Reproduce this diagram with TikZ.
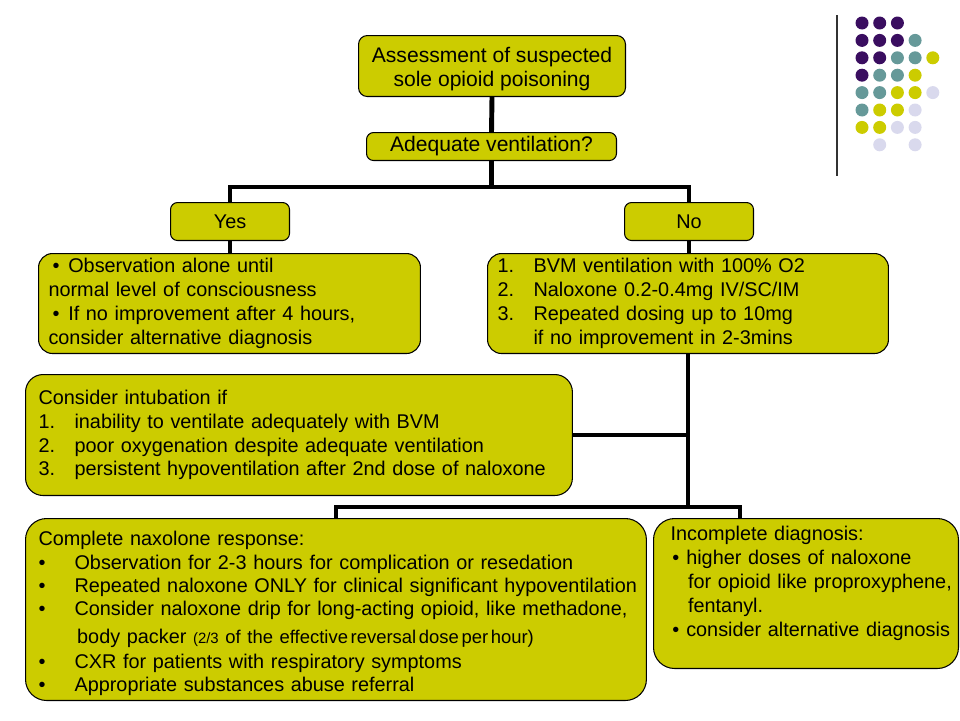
\documentclass[tikz,border=0pt]{standalone}
\usepackage{fontspec}
\setmainfont{Liberation Sans}
\usetikzlibrary{positioning, calc}

\definecolor{boxolive}{RGB}{204, 204, 0}
\definecolor{dotP}{RGB}{58, 14, 96}
\definecolor{dotT}{RGB}{102, 153, 153}
\definecolor{dotY}{RGB}{204, 204, 0}
\definecolor{dotL}{RGB}{217, 217, 237}

\newcommand{\listfont}{\fontsize{11.3}{13.6}\selectfont}
\newcommand{\headfont}{\fontsize{12}{13.6}\selectfont}
\newcommand{\numlab}[1]{\makebox[20.5pt][l]{#1}}

\tikzset{
  stepbox/.style={draw=black, line width=0.6pt, fill=boxolive, rounded corners=8pt,
    anchor=north west, inner ysep=2pt, font=\listfont},
  flowline/.style={line width=2.8pt, line join=miter},
}

\begin{document}
\begin{tikzpicture}[x=0.02cm, y=-0.02cm]
  \useasboundingbox (0,0) rectangle (960,720);

  % Decoration in the corner
  \draw[black!80, line width=0.6pt] (837,15) -- (837,176);
  \foreach \r/\list in {1/{dotP,dotP,dotP}, 2/{dotP,dotP,dotP,dotT}, 3/{dotP,dotP,dotT,dotT,dotY},
      4/{dotP,dotT,dotT,dotY}, 5/{dotT,dotT,dotY,dotY,dotL}, 6/{dotT,dotY,dotY,dotL},
      7/{dotY,dotY,dotL,dotL}, 8/{white,dotL,white,dotL}}
    \foreach \clr [count=\c] in \list
      \fill[\clr] ({862+(\c-1)*17.7}, {23+(\r-1)*17.4}) circle (6.5);

  % Question part
  \node[stepbox, rounded corners=5pt, font=\headfont, align=center, minimum width=5.34cm, minimum height=1.22cm]
    (assess) at (358,35) {\rule{0pt}{12.5pt}Assessment of suspected\\sole opioid poisoning};
  \node[stepbox, rounded corners=4pt, font=\headfont, minimum width=5cm, minimum height=0.56cm]
    (adequate) at (366,132) {Adequate ventilation?};
  \node[stepbox, rounded corners=4pt, minimum width=2.38cm, minimum height=0.76cm] (yes) at (170,202) {Yes};
  \node[stepbox, rounded corners=4pt, minimum width=2.58cm, minimum height=0.76cm] (no) at (624,202) {No};

  % Answers
  \node[stepbox, inner xsep=0.2cm, text width=7.24cm, align=left, minimum height=2cm] (obs) at (38,253) {
    \hspace*{2.3pt}•\hspace{5pt}Observation alone until\\
    normal level of consciousness\\
    \hspace*{2.3pt}•\hspace{5pt}If no improvement after 4 hours,\\
    consider alternative diagnosis};
  \node[stepbox, inner xsep=0.2cm, text width=7.62cm, align=left, minimum height=2cm] (bvm) at (487,253) {
    \numlab{1.}BVM ventilation with 100\% O2\\
    \numlab{2.}Naloxone 0.2-0.4mg IV/SC/IM\\
    \numlab{3.}Repeated dosing up to 10mg\\
    \numlab{}if no improvement in 2-3mins};
  \node[stepbox, rounded corners=10pt, inner xsep=0.26cm, text width=10.42cm, align=left, minimum height=2.42cm]
    (intub) at (25,374) {
    Consider intubation if\\
    \numlab{1.}inability to ventilate adequately with BVM\\
    \numlab{2.}poor oxygenation despite adequate ventilation\\
    \numlab{3.}persistent hypoventilation after 2nd dose of naloxone};

  % Outcomes
  \node[stepbox, rounded corners=12pt, inner xsep=0.26cm, text width=11.9cm, align=left, minimum height=3.64cm,
    font={\fontsize{11.3}{13.2}\selectfont}] (complete) at (25,518) {
    \rule{0pt}{12.7pt}Complete naxolone response:\\
    \mbox{\numlab{•}Observation for 2-3 hours for complication or resedation}\\
    \mbox{\numlab{•}Repeated naloxone ONLY for clinical significant hypoventilation}\\
    \mbox{\numlab{•}Consider naloxone drip for long-acting opioid, like methadone,}\\[2.5pt]
    \mbox{\hspace*{22pt}body packer {\fontsize{8.5}{10}\selectfont (2/3} {\fontsize{10.5}{13}\selectfont of the
    effective\hspace{1.5pt}reversal\hspace{1.5pt}dose\hspace{1.5pt}per\hspace{1.5pt}hour)}}\\[1pt]
    \mbox{\numlab{•}CXR for patients with respiratory symptoms}\\
    \mbox{\numlab{•}Appropriate substances abuse referral}};
  \node[stepbox, rounded corners=12pt, inner xsep=0.34cm, text width=5.42cm, align=left, minimum height=3cm]
    (incompl) at (653,518) {
    \mbox{Incomplete diagnosis:}\\
    \mbox{\hspace*{1pt}•\hspace{4pt}higher doses of naloxone}\\
    \mbox{\hspace*{10pt}for opioid like proproxyphene,}\\
    \mbox{\hspace*{10pt}fentanyl.}\\
    \mbox{\hspace*{1pt}•\hspace{4pt}consider alternative diagnosis}\\
    \mbox{}};

  % Connectors
  \coordinate (splitA) at (assess.south |- 0,187);
  \coordinate (splitB) at (bvm.south |- 0,507);
  \coordinate (incJoin) at ([xshift=-1.32cm]incompl.north);
  \draw[flowline] (assess.south) -- (adequate.north);
  \draw[flowline] (adequate.south) -- (adequate.south |- splitA);
  \draw[flowline] (yes.north) |- (splitA) -| (no.north);
  \draw[flowline] (yes.south) -- (yes.south |- obs.north);
  \draw[flowline] (no.south) -- (no.south |- bvm.north);
  \draw[flowline] (bvm.south) -- (splitB);
  \draw[flowline] (intub.east) -- (intub.east -| bvm.south);
  \draw[flowline] (complete.north) |- (splitB) -| (incJoin);
\end{tikzpicture}
\end{document}
